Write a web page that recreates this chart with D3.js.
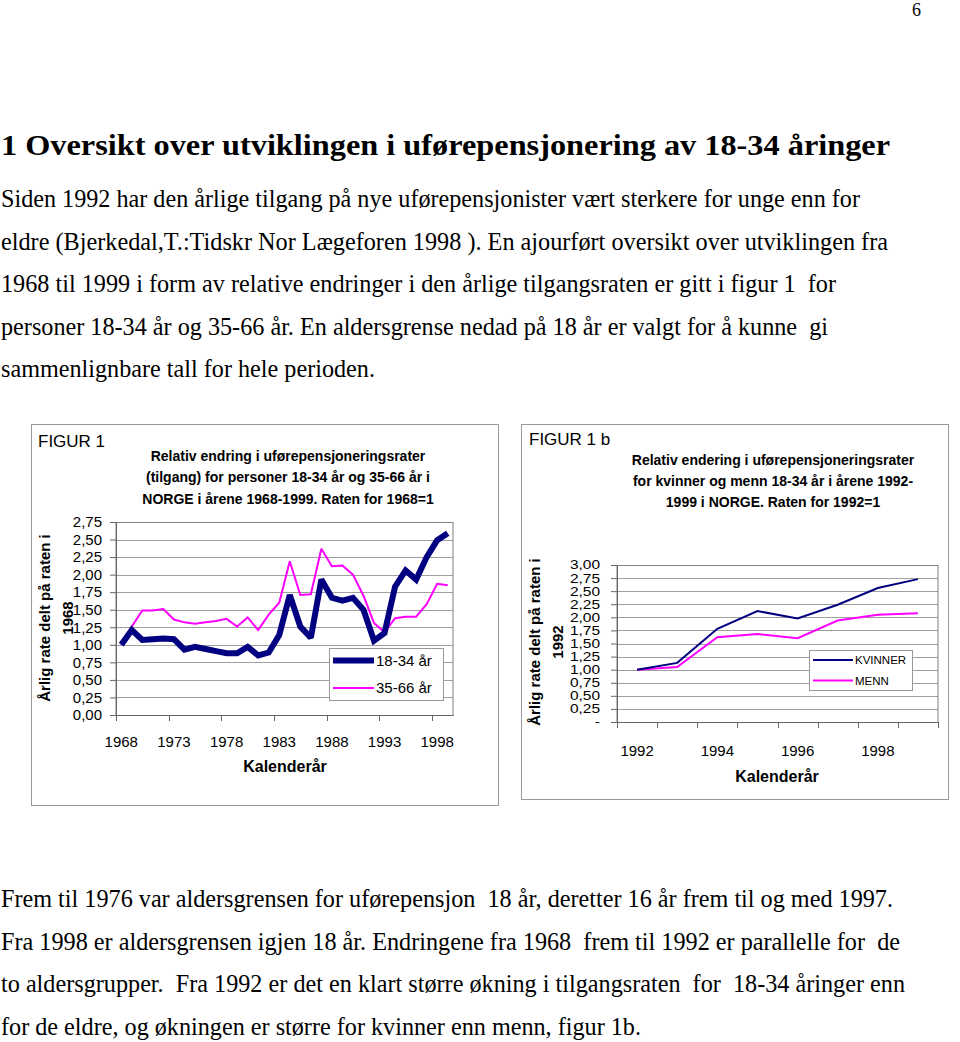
<!DOCTYPE html>
<html><head><meta charset="utf-8">
<script src="https://cdn.jsdelivr.net/npm/d3@7/dist/d3.min.js"></script>
<style>
html,body{margin:0;padding:0;background:#fff;}
svg text{white-space:pre;}
</style></head>
<body>
<svg id="page" width="960" height="1042"></svg>
<script>
// ---------- DATA ----------
const years1 = d3.range(1968, 2000);
const age1834 = [1.00,1.21,1.07,1.08,1.09,1.08,0.93,0.97,0.94,0.91,0.88,0.88,0.97,0.85,0.89,1.14,
                 1.71,1.26,1.10,1.93,1.67,1.63,1.67,1.50,1.06,1.17,1.83,2.06,1.93,2.25,2.49,2.59];
const age3566 = [1.00,1.26,1.49,1.49,1.51,1.36,1.32,1.30,1.32,1.34,1.37,1.26,1.39,1.21,1.43,1.60,
                 2.19,1.71,1.72,2.37,2.12,2.13,2.00,1.70,1.31,1.18,1.38,1.40,1.40,1.58,1.87,1.85];
const yTicks1 = [0,0.25,0.5,0.75,1,1.25,1.5,1.75,2,2.25,2.5,2.75];
const xLabels1 = [1968,1973,1978,1983,1988,1993,1998];
const series1Names = ["18-34 år","35-66 år"];

const years2 = d3.range(1992, 2000);
const kvinner = [1.00,1.13,1.78,2.12,1.98,2.24,2.56,2.73];
const menn    = [1.00,1.05,1.62,1.68,1.60,1.94,2.05,2.08];
const yTicks2 = [0,0.25,0.5,0.75,1,1.25,1.5,1.75,2,2.25,2.5,2.75,3];
const xLabels2 = [1992,1994,1996,1998];
const series2Names = ["KVINNER","MENN"];

const heading = "1 Oversikt over utviklingen i uførepensjonering av 18-34 åringer";
const introLines = [
 "Siden 1992 har den årlige tilgang på nye uførepensjonister vært sterkere for unge enn for",
 "eldre (Bjerkedal,T.:Tidskr Nor Lægeforen 1998 ). En ajourført oversikt over utviklingen fra",
 "1968 til 1999 i form av relative endringer i den årlige tilgangsraten er gitt i figur 1  for",
 "personer 18-34 år og 35-66 år. En aldersgrense nedad på 18 år er valgt for å kunne  gi",
 "sammenlignbare tall for hele perioden."
];
const outroLines = [
 "Frem til 1976 var aldersgrensen for uførepensjon  18 år, deretter 16 år frem til og med 1997.",
 "Fra 1998 er aldersgrensen igjen 18 år. Endringene fra 1968  frem til 1992 er parallelle for  de",
 "to aldersgrupper.  Fra 1992 er det en klart større økning i tilgangsraten  for  18-34 åringer enn",
 "for de eldre, og økningen er større for kvinner enn menn, figur 1b."
];
const fig1Label = "FIGUR 1";
const fig1Title = ["Relativ endring i uførepensjoneringsrater","(tilgang) for personer 18-34 år og 35-66 år i","NORGE i årene 1968-1999. Raten for 1968=1"];
const fig1bLabel = "FIGUR 1 b";
const fig1bTitle = ["Relativ endering i uførepensjoneringsrater","for kvinner og menn 18-34 år i årene 1992-","1999 i NORGE. Raten for 1992=1"];
const yTitle1 = ["Årlig rate delt på raten i","1968"];
const yTitle2 = ["Årlig rate delt på raten i","1992"];
const xTitle = "Kalenderår";

// ---------- DRAW ----------
const svg = d3.select("#page");
const SERIF = "'Liberation Serif','Times New Roman',serif";
const SANS = "'Liberation Sans',Arial,sans-serif";
const NAVY = "#000080", MAG = "#ff00ff", GRID = "#a0a0a0", AX = "#808080";
const fmt = v => d3.format(".2f")(v).replace(".", ",");

svg.append("text").attr("x",912).attr("y",16).attr("font-family",SERIF).attr("font-size",18).text("6");

svg.append("text").attr("x",1).attr("y",155).attr("font-family",SERIF).attr("font-weight","bold")
  .attr("font-size",30).attr("textLength",889).attr("lengthAdjust","spacingAndGlyphs").text(heading);

const introW = [860,888,836,828,375];
introLines.forEach((t,i)=>{
  svg.append("text").attr("x",1).attr("y",207+i*42.5).attr("font-family",SERIF).attr("font-size",25)
    .attr("textLength",introW[i]-1).attr("lengthAdjust","spacingAndGlyphs").text(t);
});
const outroW = [893,900,905,641];
outroLines.forEach((t,i)=>{
  svg.append("text").attr("x",1).attr("y",907+i*42.5).attr("font-family",SERIF).attr("font-size",25)
    .attr("textLength",outroW[i]-1).attr("lengthAdjust","spacingAndGlyphs").text(t);
});

// chart frames
svg.append("rect").attr("x",31.5).attr("y",424.5).attr("width",467).attr("height",381).attr("fill","#fff").attr("stroke","#999");
svg.append("rect").attr("x",521.5).attr("y",424.5).attr("width",427).attr("height",375).attr("fill","#fff").attr("stroke","#999");

function chart(opts){
  const g = svg.append("g");
  const x = d3.scaleBand().domain(opts.years).range([opts.left, opts.right]);
  const y = d3.scaleLinear().domain(opts.yDomain).range([opts.bottom, opts.top]);
  const cx = yr => x(yr) + x.bandwidth()/2;
  // gridlines
  g.append("g").selectAll("line").data(opts.yTicks.filter(v=>v>0)).join("line")
    .attr("x1",opts.left).attr("x2",opts.right)
    .attr("y1",d=>Math.round(y(d))+0.5).attr("y2",d=>Math.round(y(d))+0.5)
    .attr("stroke",GRID).attr("stroke-width",1);
  // border
  g.append("rect").attr("x",opts.left).attr("y",Math.round(y(opts.yDomain[1]))+0.5)
    .attr("width",opts.right-opts.left).attr("height",Math.round(y(0))-Math.round(y(opts.yDomain[1])))
    .attr("fill","none").attr("stroke",AX);
  // y axis
  const ya = d3.axisLeft(y).tickValues(opts.yTicks).tickSize(6).tickPadding(opts.yPad).tickFormat(opts.yFmt);
  const yg = g.append("g").attr("transform",`translate(${opts.left},0)`).call(ya);
  yg.select(".domain").attr("stroke","#666");
  yg.selectAll(".tick line").attr("stroke","#666");
  yg.selectAll("text").attr("font-family",SANS).attr("font-size",opts.tickFont).attr("fill","#000")
    .attr("transform",`scale(1,${opts.yLabelScale})`);
  // x axis labels
  const xa = d3.axisBottom(x).tickValues(opts.xLabels).tickSize(0).tickPadding(opts.xPad);
  const xg = g.append("g").attr("transform",`translate(0,${opts.bottom})`).call(xa);
  xg.select(".domain").attr("stroke","#666");
  xg.selectAll("text").attr("font-family",SANS).attr("font-size",15).attr("fill","#000");
  // x tick marks at category boundaries
  const bounds = opts.years.filter((d,i)=>i%opts.tickEvery===0).map(d=>x(d)).concat(opts.tickEnd?[opts.right]:[]);
  g.append("g").selectAll("line").data(bounds).join("line")
    .attr("x1",d=>Math.round(d)+0.5).attr("x2",d=>Math.round(d)+0.5)
    .attr("y1",opts.bottom).attr("y2",opts.bottom+6).attr("stroke","#666");
  // lines
  opts.series.forEach(s=>{
    g.append("path").datum(opts.years.map((yr,i)=>[cx(yr), y(s.values[i])]))
      .attr("d",d3.line()).attr("fill","none").attr("stroke",s.color)
      .attr("stroke-width",s.width).attr("stroke-linejoin","miter").attr("stroke-miterlimit",2);
  });
  return {x,y};
}

chart({years:years1, left:116, right:453, top:522, bottom:715, yDomain:[0,2.75], yTicks:yTicks1,
  yFmt:fmt, yPad:8, yLabelScale:1, xLabels:xLabels1, tickEvery:5, tickEnd:false, tickFont:15, xPad:21,
  series:[{values:age3566,color:MAG,width:2},{values:age1834,color:NAVY,width:6}]});

chart({years:years2, left:617, right:938, top:565, bottom:722, yDomain:[0,3], yTicks:yTicks2,
  yFmt:v=>v===0?"-":fmt(v), yPad:11, yLabelScale:0.8, xLabels:xLabels2, tickEvery:1, tickEnd:true, tickFont:15.5, xPad:23,
  series:[{values:menn,color:MAG,width:2},{values:kvinner,color:NAVY,width:2}]});

// titles
svg.append("text").attr("x",38).attr("y",447).attr("font-family",SANS).attr("font-size",17).text(fig1Label);
fig1Title.forEach((t,i)=>svg.append("text").attr("x",288).attr("y",461+i*21.3).attr("text-anchor","middle")
  .attr("font-family",SANS).attr("font-weight","bold").attr("font-size",14).text(t));
svg.append("text").attr("x",529).attr("y",445).attr("font-family",SANS).attr("font-size",17).text(fig1bLabel);
fig1bTitle.forEach((t,i)=>svg.append("text").attr("x",773).attr("y",465+i*21).attr("text-anchor","middle")
  .attr("font-family",SANS).attr("font-weight","bold").attr("font-size",14).text(t));

// y titles
function yTitle(lines, x1, x2, cy){
  [x1,x2].forEach((xx,i)=>svg.append("text").attr("transform",`translate(${xx},${cy}) rotate(-90)`)
    .attr("text-anchor","middle").attr("font-family",SANS).attr("font-weight","bold").attr("font-size",15).text(lines[i]));
}
yTitle(yTitle1, 50, 73, 618);
yTitle(yTitle2, 540, 563, 642);

svg.append("text").attr("x",285).attr("y",772).attr("text-anchor","middle").attr("font-family",SANS)
  .attr("font-weight","bold").attr("font-size",16).text(xTitle);
svg.append("text").attr("x",777).attr("y",782).attr("text-anchor","middle").attr("font-family",SANS)
  .attr("font-weight","bold").attr("font-size",16).text(xTitle);

// legends
function legend(box, items){
  const g = svg.append("g");
  g.append("rect").attr("x",box.x+0.5).attr("y",box.y+0.5).attr("width",box.w).attr("height",box.h)
    .attr("fill","#fff").attr("stroke","#999");
  items.forEach((it,i)=>{
    const yy = box.y + box.first + i*box.step;
    g.append("line").attr("x1",box.lx1).attr("x2",box.lx2).attr("y1",yy).attr("y2",yy)
      .attr("stroke",it.color).attr("stroke-width",it.width);
    g.append("text").attr("x",box.lx2+2).attr("y",yy+box.fs*0.36).attr("font-family",SANS)
      .attr("font-size",box.fs).text(it.name);
  });
}
legend({x:329,y:648,w:114,h:52,first:12.5,step:27.5,lx1:333,lx2:374,fs:15},
  [{name:series1Names[0],color:NAVY,width:6},{name:series1Names[1],color:MAG,width:2}]);
legend({x:809,y:650,w:103,h:40,first:10,step:20.5,lx1:813,lx2:853,fs:11.5},
  [{name:series2Names[0],color:NAVY,width:2},{name:series2Names[1],color:MAG,width:2}]);
</script>
</body></html>
